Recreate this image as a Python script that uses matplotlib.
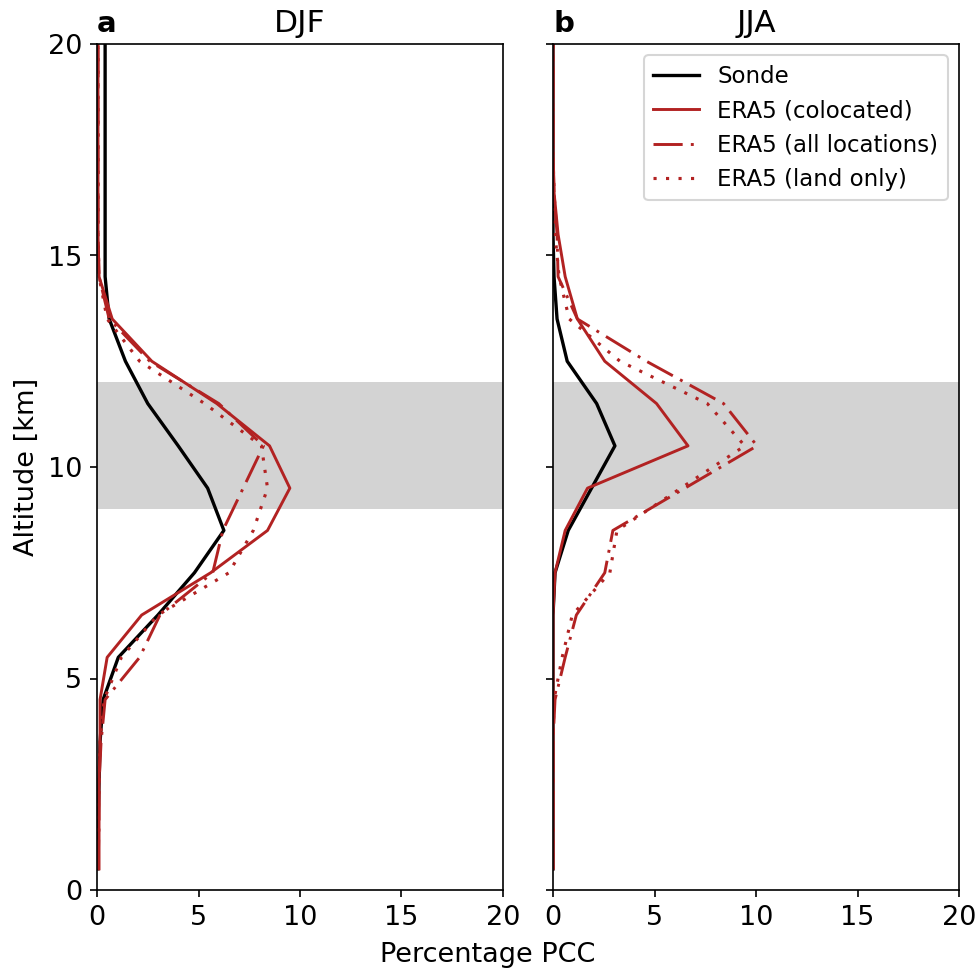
import numpy as np
import matplotlib
matplotlib.use("Agg")
import matplotlib.pyplot as plt

# altitude bin centres [km]
altitude = np.arange(0.5, 21.0, 1.0)

# percentage PCC per altitude bin, DJF
sonde_djf = [0.05, 0.05, 0.1, 0.15, 0.3, 1.05, 3.0, 4.8, 6.25, 5.45, 4.0,
             2.5, 1.4, 0.6, 0.4, 0.4, 0.4, 0.4, 0.4, 0.4, 0.4]
era5_coloc_djf = [0.1, 0.1, 0.1, 0.15, 0.15, 0.5, 2.2, 5.6, 8.4, 9.5, 8.5,
                  5.9, 2.7, 0.75, 0.1, 0.05, 0.05, 0.05, 0.05, 0.05, 0.05]
era5_all_djf = [0.05, 0.1, 0.1, 0.2, 0.4, 2.1, 3.1, 5.7, 6.2, 7.2, 8.2,
                6.0, 2.6, 0.6, 0.1, 0.05, 0.05, 0.05, 0.05, 0.05, 0.05]
era5_land_djf = [0.05, 0.05, 0.1, 0.15, 0.35, 1.2, 3.0, 6.5, 7.7, 8.4, 8.1,
                 5.3, 2.1, 0.5, 0.1, 0.05, 0.05, 0.05, 0.05, 0.05, 0.05]

# percentage PCC per altitude bin, JJA
sonde_jja = [0, 0, 0, 0, 0, 0, 0, 0.1, 0.75, 1.9, 3.05,
             2.15, 0.7, 0.2, 0.05, 0, 0, 0, 0, 0, 0]
era5_coloc_jja = [0, 0, 0, 0, 0, 0, 0, 0.1, 0.6, 1.7, 6.65,
                  5.1, 2.55, 1.2, 0.6, 0.25, 0.05, 0, 0, 0, 0]
era5_all_jja = [0, 0, 0, 0, 0.1, 0.6, 1.15, 2.55, 2.95, 6.5, 10.05,
                8.4, 4.6, 1.2, 0.25, 0.2, 0.05, 0, 0, 0, 0]
era5_land_jja = [0, 0, 0, 0, 0.05, 0.45, 0.95, 2.8, 3.15, 6.3, 9.45,
                 7.6, 3.3, 0.8, 0.3, 0.1, 0.05, 0, 0, 0, 0]

seasons = ["DJF", "JJA"]
panel_letters = ["a", "b"]

RED = "firebrick"
DASHDOT = (0, (10, 2.8, 1, 2.8))
DOTTED = (0, (1, 3))

fig = plt.figure(figsize=(979 / 150, 974 / 150), dpi=150)
ax1 = fig.add_axes([97 / 979, 1 - 890 / 974, 406 / 979, 846 / 974])
ax2 = fig.add_axes([553 / 979, 1 - 890 / 974, 406 / 979, 846 / 974], sharey=ax1)

data = [
    (sonde_djf, era5_coloc_djf, era5_all_djf, era5_land_djf),
    (sonde_jja, era5_coloc_jja, era5_all_jja, era5_land_jja),
]

for ax, season, letter, (sonde, coloc, alll, land) in zip(
        [ax1, ax2], seasons, panel_letters, data):
    # tropopause region
    ax.axhspan(9, 12, color="lightgray", lw=0, zorder=0)
    ax.plot(sonde, altitude, color="black", lw=1.6, label="Sonde")
    ax.plot(coloc, altitude, color=RED, lw=1.4, label="ERA5 (colocated)")
    ax.plot(alll, altitude, color=RED, lw=1.4, ls=DASHDOT, label="ERA5 (all locations)")
    ax.plot(land, altitude, color=RED, lw=1.5, ls=DOTTED, label="ERA5 (land only)")
    ax.set_xlim(0, 20)
    ax.set_ylim(0, 20)
    ax.set_xticks([0, 5, 10, 15, 20])
    ax.set_yticks([0, 5, 10, 15, 20])
    ax.tick_params(labelsize=13)
    ax.set_title(season, fontsize=15)
    ax.set_title(letter, loc="left", fontweight="bold", fontsize=14)

ax2.tick_params(labelleft=False)
ax1.set_ylabel("Altitude [km]", fontsize=13)
fig.text(0.498, 0.006, "Percentage PCC", ha="center", va="bottom", fontsize=13)

ax2.legend(loc="upper right", fontsize=11)

fig.savefig("out.png", dpi=150)
